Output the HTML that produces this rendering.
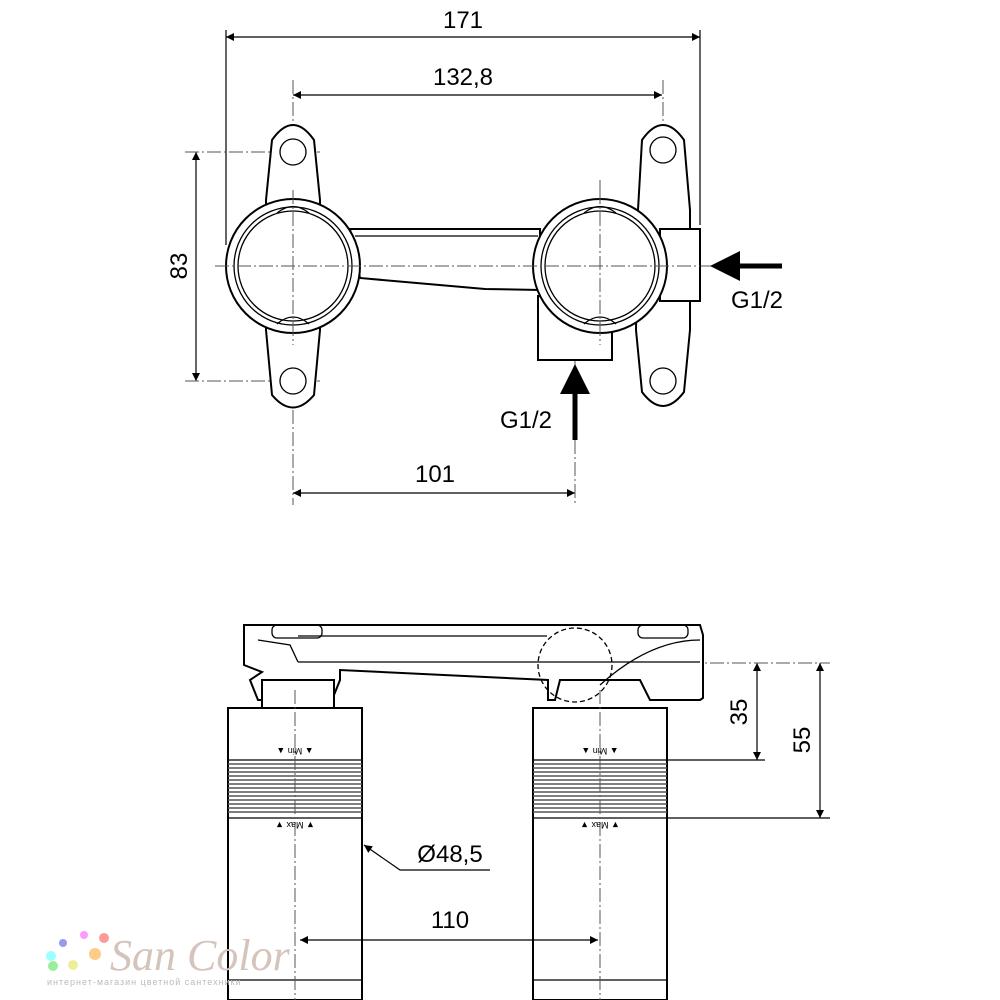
<!DOCTYPE html>
<html><head><meta charset="utf-8"><style>
html,body{margin:0;padding:0;background:#fff}
svg{display:block}
text{font-family:"Liberation Sans",sans-serif;fill:#000}
</style></head><body>
<svg width="1000" height="1000" viewBox="0 0 1000 1000" xmlns="http://www.w3.org/2000/svg">
<defs>
<marker id="a" viewBox="0 0 10 10" refX="10" refY="5" markerWidth="22" markerHeight="8" orient="auto-start-reverse" markerUnits="userSpaceOnUse"><path d="M0,0L10,5L0,10z" fill="#000"/></marker>
</defs>
<g fill="none" stroke="#000" stroke-width="1.2">
<line x1="226" y1="30" x2="226" y2="245"/>
<line x1="700" y1="30" x2="700" y2="225"/>
<line x1="226" y1="37" x2="700" y2="37" marker-start="url(#a)" marker-end="url(#a)"/>
<line x1="293" y1="95" x2="662" y2="95" marker-start="url(#a)" marker-end="url(#a)"/>
<line x1="196" y1="152" x2="196" y2="381" marker-start="url(#a)" marker-end="url(#a)"/>
<line x1="293" y1="493" x2="575" y2="493" marker-start="url(#a)" marker-end="url(#a)"/>
<line x1="757" y1="663" x2="757" y2="760" marker-start="url(#a)" marker-end="url(#a)"/>
<line x1="820" y1="663" x2="820" y2="818" marker-start="url(#a)" marker-end="url(#a)"/>
<line x1="667" y1="760" x2="765" y2="760"/>
<line x1="667" y1="818" x2="830" y2="818"/>
<polyline points="490,870 400,870 364,845" marker-end="url(#a)"/>
</g>
<g stroke="#555" stroke-width="1" stroke-dasharray="14,3,2,3" fill="none">
<line x1="293" y1="80" x2="293" y2="505"/>
<line x1="663" y1="80" x2="663" y2="400"/>
<line x1="600" y1="180" x2="600" y2="340"/>
<line x1="575" y1="330" x2="575" y2="505"/>
<line x1="185" y1="152" x2="320" y2="152"/>
<line x1="185" y1="381" x2="320" y2="381"/>
<line x1="215" y1="266" x2="712" y2="266"/>
<line x1="645" y1="150" x2="680" y2="150"/>
<line x1="645" y1="381" x2="680" y2="381"/>
<line x1="600" y1="663" x2="830" y2="663"/>
</g>
<g fill="#fff" stroke="#000" stroke-width="2">
<path d="M272,140 Q293,110 314,140 L320,200 L320,330 L314,395 Q293,420 272,395 L266,330 L266,200 Z"/>
<path d="M642,140 Q663,110 684,140 L690,210 L690,330 L684,392 Q663,420 642,392 L636,330 L638,210 Z"/>
<rect x="660" y="229" width="40" height="72"/>
<rect x="538" y="296" width="74" height="64"/>
<path d="M350,229 L540,229 L540,290 L485,289 L360,278 Z"/>
<circle cx="293" cy="266" r="67"/>
<circle cx="600" cy="266" r="67"/>
</g>
<g fill="none" stroke="#000" stroke-width="1.3">
<circle cx="293" cy="266" r="59"/><circle cx="293" cy="266" r="55"/>
<circle cx="600" cy="266" r="59"/><circle cx="600" cy="266" r="55"/>
<circle cx="293" cy="152" r="13"/><circle cx="293" cy="381" r="13"/>
<circle cx="663" cy="150" r="13"/><circle cx="663" cy="381" r="13"/>
<line x1="355" y1="236" x2="538" y2="236"/>
<path d="M277,213 Q293,200 309,213"/><path d="M277,324 Q293,310 309,324"/>
<path d="M584,213 Q600,200 616,213"/><path d="M584,324 Q600,310 616,324"/>
</g>
<g stroke="#555" stroke-width="1" stroke-dasharray="14,3,2,3" fill="none">
<line x1="293" y1="190" x2="293" y2="345"/>
<line x1="600" y1="190" x2="600" y2="345"/>
<line x1="215" y1="266" x2="700" y2="266"/>
</g>
<line x1="730" y1="266" x2="782" y2="266" stroke="#000" stroke-width="5"/>
<path d="M710,266 L740,251 L740,281 Z" fill="#000"/>
<line x1="575" y1="385" x2="575" y2="440" stroke="#000" stroke-width="5"/>
<path d="M575,364 L560,394 L590,394 Z" fill="#000"/>
<!-- bottom view -->
<g fill="#fff" stroke="#000" stroke-width="2">
<path d="M244,625 L700,625 L703,635 L703,698 L700,700 L650,700 L640,680 L560,680 L555,700 L548,700 L548,680 L340,670 L340,680 L332,700 L258,700 L250,680 L262,672 L244,665 Z"/>
<rect x="262" y="680" width="72" height="28"/>
<rect x="228" y="708" width="134" height="292"/>
<rect x="533" y="708" width="134" height="292"/>
</g>
<g fill="none" stroke="#000" stroke-width="1.3">
<line x1="298" y1="636" x2="547" y2="636"/>
<line x1="298" y1="662" x2="700" y2="662"/>
<rect x="272" y="625" width="50" height="13" rx="5"/>
<rect x="638" y="625" width="50" height="13" rx="5"/>
<path d="M258,640 L290,645 L298,662"/>
<line x1="228" y1="760" x2="362" y2="760"/><line x1="228" y1="818" x2="362" y2="818"/>
<line x1="533" y1="760" x2="667" y2="760"/><line x1="533" y1="818" x2="667" y2="818"/>
<line x1="228" y1="980" x2="362" y2="980"/><line x1="533" y1="980" x2="667" y2="980"/>
<path d="M600,685 Q650,640 700,640"/>
<circle cx="575" cy="665" r="37" stroke-dasharray="5,3"/>
</g>
<g stroke="#555" stroke-width="1.6">
<path d="M228,764H362M228,768H362M228,772H362M228,776H362M228,780H362M228,784H362M228,788H362M228,792H362M228,796H362M228,800H362M228,804H362M228,808H362M228,812H362"/>
<path d="M533,764H667M533,768H667M533,772H667M533,776H667M533,780H667M533,784H667M533,788H667M533,792H667M533,796H667M533,800H667M533,804H667M533,808H667M533,812H667"/>
</g>
<g stroke="#555" stroke-width="1" stroke-dasharray="14,3,2,3" fill="none">
<line x1="295" y1="690" x2="295" y2="1000"/>
<line x1="600" y1="690" x2="600" y2="1000"/>
</g>
<line x1="300" y1="940" x2="598" y2="940" stroke="#000" stroke-width="1.2" marker-start="url(#a)" marker-end="url(#a)"/>
<g fill="#444" font-size="9">
<text transform="translate(295,748) rotate(180)" text-anchor="middle">▲ Min ▲</text>
<text transform="translate(600,748) rotate(180)" text-anchor="middle">▲ Min ▲</text>
<text transform="translate(295,822) rotate(180)" text-anchor="middle">▼ Max ▼</text>
<text transform="translate(600,822) rotate(180)" text-anchor="middle">▼ Max ▼</text>
</g>
<g font-size="24">
<text x="463" y="28" text-anchor="middle">171</text>
<text x="463" y="85" text-anchor="middle">132,8</text>
<text x="435" y="482" text-anchor="middle">101</text>
<text x="757" y="308" text-anchor="middle">G1/2</text>
<text x="526" y="428" text-anchor="middle">G1/2</text>
<text x="450" y="862" text-anchor="middle">Ø48,5</text>
<text x="450" y="928" text-anchor="middle">110</text>
<text transform="translate(187,266) rotate(-90)" text-anchor="middle">83</text>
<text transform="translate(747,712) rotate(-90)" text-anchor="middle">35</text>
<text transform="translate(810,740) rotate(-90)" text-anchor="middle">55</text>
</g>
<g>
<circle cx="51" cy="956" r="5" fill="#9ff"/>
<circle cx="53" cy="966" r="5" fill="#9e9"/><circle cx="63" cy="943" r="4" fill="#99e"/>
<circle cx="84" cy="935" r="4" fill="#f9f"/><circle cx="73" cy="965" r="5" fill="#ee9"/>
<circle cx="95" cy="954" r="6" fill="#fc8"/><circle cx="104" cy="938" r="5" fill="#f99"/>
<text x="110" y="970" font-size="44" style="fill:#d4c4bc;font-family:'Liberation Serif',serif;font-style:italic">San Color</text>
<text x="47" y="985" font-size="9" style="fill:#bbb" letter-spacing="1">интернет-магазин цветной сантехники</text>
</g>
</svg>
</body></html>
